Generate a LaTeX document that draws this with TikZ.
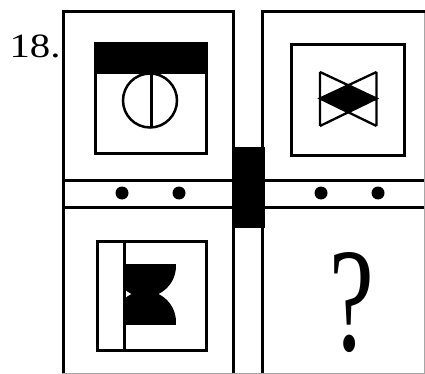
\documentclass[tikz,border=0pt]{standalone}
\usepackage{fontspec}
\setmainfont{Liberation Serif}
\begin{document}
\begin{tikzpicture}[x=1pt,y=-1pt,
  frame/.style={line width=3pt},
  thinline/.style={line width=2.3pt},
  cropline/.style={black!35,line width=1pt}]
\useasboundingbox (0,0) rectangle (425,374);
% panels
\draw[frame] (63.5,374) -- (63.5,11.5) -- (233.5,11.5) -- (233.5,374);
\draw[frame] (262.5,374) -- (262.5,11.5) -- (426,11.5);
% strips
\draw[frame] (63.5,180) -- (233.5,180) (63.5,207) -- (233.5,207);
\draw[frame] (262.5,180) -- (426,180) (262.5,207) -- (426,207);
% black bar between panels
\fill (232,147) rectangle (265,228);
% dots
\fill (122,193) circle (6.5) (179,193) circle (6.5)
      (321,193) circle (6.5) (378,193) circle (6.5);
% cropped edges
\draw[cropline] (62,373.5) -- (425,373.5);
\draw[cropline] (424,13) -- (424,374);
% top-left figure
\draw[frame] (95.5,43.5) rectangle (206.5,153.5);
\fill (94,42) rectangle (208,74);
\draw[line width=2.5pt] (150,100.5) circle (27);
\draw[line width=2.5pt] (151.5,73) -- (151.5,128);
% top-right figure
\draw[frame] (291.5,44.5) rectangle (404,155.5);
\fill (320,98.5) -- (348.25,85) -- (376.5,98.5) -- (348.25,112) -- cycle;
\draw[thinline] (320,72) -- (320,126) (376.5,72) -- (376.5,126)
  (320,72) -- (376.5,98.5) -- (320,126)
  (376.5,72) -- (320,98.5) -- (376.5,126);
% bottom-left figure
\draw[frame] (97.5,241) rectangle (206.5,350);
\begin{scope}
  \clip (124.5,264) rectangle (176,324);
  \fill (145,266) circle (31) (145,322) circle (31);
\end{scope}
\draw[frame] (124.5,241) -- (124.5,350);
% texts
\node[inner sep=0pt, xscale=1.2, font=\fontsize{34}{34}\selectfont] (num) at (35,46) {18.};
\node[inner sep=0pt, xscale=0.68, font=\fontsize{148}{148}\selectfont] (qmark) at (351.5,302.5) {?};
\end{tikzpicture}
\end{document}
